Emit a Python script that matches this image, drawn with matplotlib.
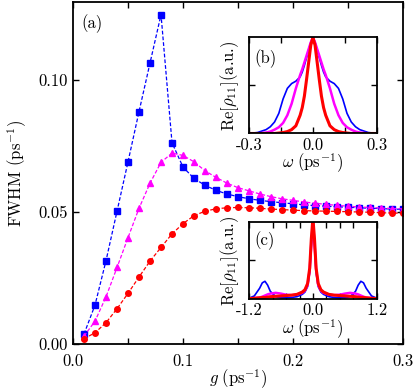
import numpy as np
import matplotlib
matplotlib.use("Agg")
import matplotlib.pyplot as plt

plt.rcParams['font.family'] = 'serif'
plt.rcParams['font.serif'] = ['cmr10', 'DejaVu Serif']
plt.rcParams['mathtext.fontset'] = 'cm'
plt.rcParams['axes.unicode_minus'] = False
plt.rcParams['font.size'] = 12

# main panel: FWHM versus coupling g
g = [0.01, 0.02, 0.03, 0.04, 0.05, 0.06, 0.07, 0.08, 0.09, 0.10,
     0.11, 0.12, 0.13, 0.14, 0.15, 0.16, 0.17, 0.18, 0.19, 0.20,
     0.21, 0.22, 0.23, 0.24, 0.25, 0.26, 0.27, 0.28, 0.29, 0.30]
fwhm_blue = [0.0038, 0.0148, 0.0316, 0.0503, 0.0690, 0.0880, 0.1064, 0.1247, 0.0762, 0.0670,
             0.0627, 0.0601, 0.0582, 0.0568, 0.0558, 0.0550, 0.0544, 0.0539, 0.0535, 0.0531,
             0.0527, 0.0524, 0.0522, 0.0520, 0.0518, 0.0516, 0.0514, 0.0513, 0.0511, 0.0510]
fwhm_magenta = [0.0030, 0.0087, 0.0179, 0.0290, 0.0403, 0.0514, 0.0609, 0.0688, 0.0723, 0.0714,
                0.0690, 0.0656, 0.0631, 0.0609, 0.0592, 0.0580, 0.0568, 0.0558, 0.0550, 0.0544,
                0.0538, 0.0533, 0.0529, 0.0525, 0.0522, 0.0519, 0.0517, 0.0515, 0.0513, 0.0512]
fwhm_red = [0.0020, 0.0043, 0.0081, 0.0134, 0.0192, 0.0254, 0.0314, 0.0366, 0.0417, 0.0456,
            0.0486, 0.0503, 0.0512, 0.0516, 0.0517, 0.0516, 0.0514, 0.0511, 0.0509, 0.0507,
            0.0505, 0.0504, 0.0503, 0.0502, 0.0501, 0.0500, 0.0499, 0.0497, 0.0496, 0.0495]

# inset (b): spectra, omega in [-0.3, 0.3]
omega_b = [-0.30, -0.26, -0.22, -0.20, -0.18, -0.16, -0.14, -0.12, -0.10, -0.08, -0.06,
           -0.05, -0.04, -0.03, -0.02, -0.01, 0.0, 0.01, 0.02, 0.03, 0.04, 0.05,
           0.06, 0.08, 0.10, 0.12, 0.14, 0.16, 0.18, 0.20, 0.22, 0.26, 0.30]
spec_b_blue = [0.0, 0.01, 0.04, 0.07, 0.12, 0.21, 0.36, 0.47, 0.52, 0.545, 0.59,
               0.64, 0.71, 0.79, 0.87, 0.95, 1.0, 0.95, 0.87, 0.79, 0.71, 0.64,
               0.59, 0.545, 0.52, 0.47, 0.36, 0.21, 0.12, 0.07, 0.04, 0.01, 0.0]
spec_b_magenta = [0.0, 0.0, 0.01, 0.02, 0.04, 0.065, 0.11, 0.19, 0.31, 0.47, 0.61,
                  0.67, 0.74, 0.81, 0.88, 0.95, 1.0, 0.95, 0.88, 0.81, 0.74, 0.67,
                  0.61, 0.47, 0.31, 0.19, 0.11, 0.065, 0.04, 0.02, 0.01, 0.0, 0.0]
spec_b_red = [0.0, 0.0, 0.0, 0.0, 0.0, 0.005, 0.01, 0.02, 0.04, 0.08, 0.19,
              0.27, 0.39, 0.56, 0.74, 0.92, 1.0, 0.92, 0.74, 0.56, 0.39, 0.27,
              0.19, 0.08, 0.04, 0.02, 0.01, 0.005, 0.0, 0.0, 0.0, 0.0, 0.0]

# inset (c): spectra, omega in [-1.2, 1.2]
omega_c = [-1.2, -1.1, -1.0, -0.95, -0.9, -0.85, -0.8, -0.7, -0.6, -0.5, -0.4, -0.3,
           -0.2, -0.15, -0.1, -0.06, -0.03, 0.0, 0.03, 0.06, 0.1, 0.15, 0.2,
           0.3, 0.4, 0.5, 0.6, 0.7, 0.8, 0.85, 0.9, 0.95, 1.0, 1.1, 1.2]
spec_c_blue = [0.01, 0.04, 0.14, 0.21, 0.23, 0.18, 0.10, 0.03, 0.015, 0.015, 0.02, 0.03,
               0.06, 0.09, 0.16, 0.35, 0.70, 1.0, 0.70, 0.35, 0.16, 0.09, 0.06,
               0.03, 0.02, 0.015, 0.015, 0.03, 0.10, 0.18, 0.23, 0.21, 0.14, 0.04, 0.01]
spec_c_magenta = [0.0, 0.01, 0.02, 0.03, 0.045, 0.06, 0.07, 0.08, 0.07, 0.055, 0.05, 0.058,
                  0.08, 0.11, 0.18, 0.38, 0.72, 1.0, 0.72, 0.38, 0.18, 0.11, 0.08,
                  0.058, 0.05, 0.055, 0.07, 0.08, 0.07, 0.06, 0.045, 0.03, 0.02, 0.01, 0.0]
spec_c_red = [0.005, 0.01, 0.015, 0.02, 0.02, 0.025, 0.03, 0.035, 0.04, 0.045, 0.05, 0.06,
              0.09, 0.12, 0.20, 0.40, 0.78, 1.05, 0.78, 0.40, 0.20, 0.12, 0.09,
              0.06, 0.05, 0.045, 0.04, 0.035, 0.03, 0.025, 0.02, 0.02, 0.015, 0.01, 0.005]

blue = '#0000ff'
magenta = '#ff00ff'
red = '#ff0000'

fig = plt.figure(figsize=(4.15, 3.91), dpi=100)
ax = fig.add_axes([0.176, 0.120, 0.795, 0.875])

ax.plot(g, fwhm_blue, ls='--', dashes=(3, 1.6), lw=0.9, color=blue, marker='s', ms=3.8, mec=blue)
ax.plot(g, fwhm_magenta, ls='--', dashes=(3, 1.6), lw=0.9, color=magenta, marker='^', ms=4.0, mec=magenta)
ax.plot(g, fwhm_red, ls='--', dashes=(3, 1.6), lw=0.9, color=red, marker='o', ms=4.0, mec=red)

ax.set_xlim(0, 0.3)
ax.set_ylim(0, 0.1295)
ax.set_xticks([0.0, 0.1, 0.2, 0.3])
ax.set_xticklabels(['0.0', '0.1', '0.2', '0.3'])
ax.set_xticks([0.05, 0.15, 0.25], minor=True)
ax.set_yticks([0.0, 0.05, 0.10])
ax.set_yticklabels(['0.00', '0.05', '0.10'])
ax.tick_params(which='both', direction='in', top=True, right=True, length=4, width=1.0)
ax.tick_params(axis='x', pad=7)
for s in ax.spines.values():
    s.set_linewidth(1.3)
ax.set_xlabel(r'$g\ (\mathrm{ps}^{-1})$', labelpad=-1)
ax.set_ylabel(r'FWHM $(\mathrm{ps}^{-1})$', labelpad=7)
ax.text(0.025, 0.965, '(a)', transform=ax.transAxes, ha='left', va='top')


def style_inset(axi, xt, xl, xminor, label):
    axi.set_xticks(xt)
    axi.set_xticklabels(xl)
    axi.set_xticks(xminor, minor=True)
    axi.set_yticks([0.5])
    axi.set_yticklabels([])
    axi.set_ylim(0, 1.0)
    axi.tick_params(which='both', direction='in', top=True, right=True, length=4, width=1.0, pad=3)
    for s in axi.spines.values():
        s.set_linewidth(1.3)
    axi.set_xlabel(r'$\omega\ (\mathrm{ps}^{-1})$', labelpad=-1)
    axi.set_ylabel(r'$\mathrm{Re}[\rho_{11}]$(a.u.)', labelpad=3)
    axi.text(0.04, 0.88, label, transform=axi.transAxes, ha='left', va='top')


axb = fig.add_axes([0.600, 0.6586, 0.308, 0.2455])
axb.plot(omega_b, spec_b_blue, color=blue, lw=1.2)
axb.plot(omega_b, spec_b_magenta, color=magenta, lw=1.8)
axb.plot(omega_b, spec_b_red, color=red, lw=2.2)
axb.set_xlim(-0.3, 0.3)
style_inset(axb, [-0.3, 0.0, 0.3], ['-0.3', '0.0', '0.3'], [-0.15, 0.15], '(b)')

axc = fig.add_axes([0.600, 0.2353, 0.308, 0.197])
axc.plot(omega_c, spec_c_blue, color=blue, lw=1.2)
axc.plot(omega_c, spec_c_magenta, color=magenta, lw=1.8)
axc.plot(omega_c, spec_c_red, color=red, lw=2.2)
axc.set_xlim(-1.2, 1.2)
style_inset(axc, [-1.2, 0.0, 1.2], ['-1.2', '0.0', '1.2'],
            [-0.75, -0.5, -0.25, 0.25, 0.5, 0.75], '(c)')

fig.savefig('out.png', dpi=100)
